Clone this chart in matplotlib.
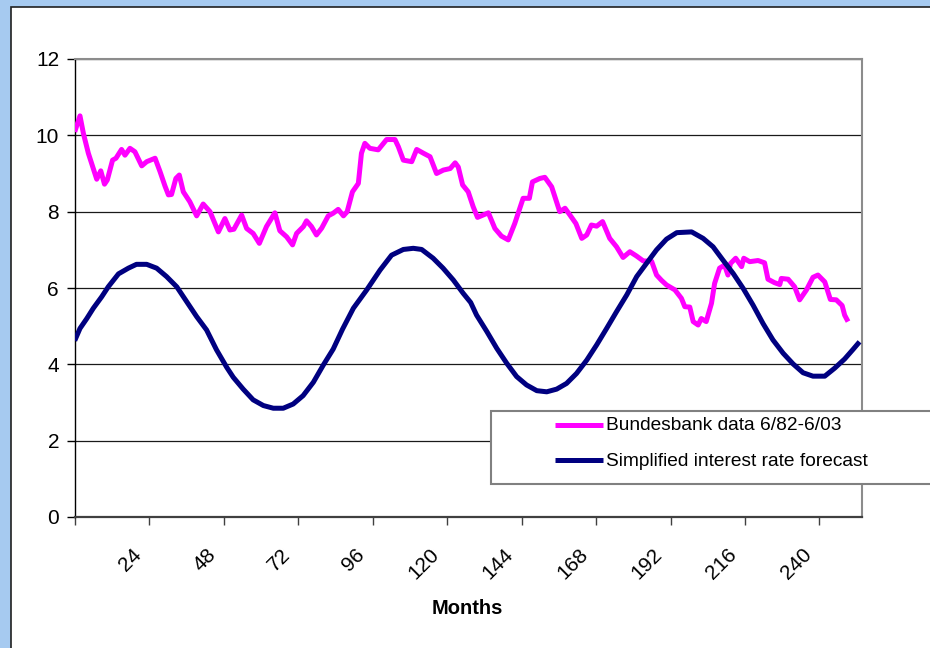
import matplotlib
matplotlib.use("Agg")
import matplotlib.pyplot as plt
from matplotlib.patches import Rectangle
from matplotlib.lines import Line2D
from matplotlib.transforms import ScaledTranslation
import numpy as np

plt.rcParams['font.family'] = ['Liberation Sans', 'DejaVu Sans']

# ---- data ----
pink_months = [0, 1.7, 2.8, 4.4, 5.8, 7.1, 8.4, 9.6, 10.5, 12.2, 13.3, 15.1, 16.2, 17.8, 19.4,
               21.6, 23.2, 25.9, 27.5, 29.1, 30.2, 31.2, 32.6, 33.7, 35.0, 37.1, 39.3, 41.4,
               43.6, 46.3, 48.4, 50.0, 51.3, 53.8, 55.4, 57.5, 59.5, 61.8, 64.5, 66.1, 68.3,
               70.2, 71.5, 73.7, 74.7, 76.3, 77.9, 79.6, 81.7, 83.3, 84.9, 86.6, 87.8, 89.5,
               91.4, 92.4, 93.5, 95.1, 97.8, 100.5, 103.2, 104.3, 105.9, 108.6, 110.2, 112.4,
               114.5, 116.6, 118.8, 121.0, 122.6, 123.6, 125.0, 126.8, 128.4, 129.8, 133.3,
               135.4, 137.5, 139.7, 141.8, 144.5, 146.5, 147.5, 149.9, 151.5, 153.7, 156.3,
               158.0, 159.6, 161.5, 163.4, 165.0, 166.5, 168.2, 170.1, 172.4, 174.6, 176.7,
               178.9, 181.0, 183.2, 185.9, 187.5, 189.1, 190.7, 193.4, 195.5, 196.6, 198.2,
               199.3, 200.9, 201.9, 203.5, 205.2, 206.2, 207.8, 209.4, 210.5, 211.3, 213.0,
               214.9, 215.6, 217.5, 220.2, 222.3, 223.4, 225.5, 227.2, 227.7, 229.9, 232.0,
               233.6, 235.8, 237.9, 239.5, 241.7, 243.5, 245.4, 247.3, 248.1, 249.2]
pink_values = [10.09, 10.51, 10.05, 9.53, 9.18, 8.85, 9.07, 8.72, 8.83, 9.35, 9.40, 9.63, 9.48,
               9.66, 9.57, 9.20, 9.31, 9.40, 9.05, 8.67, 8.44, 8.45, 8.87, 8.96, 8.52, 8.26,
               7.89, 8.20, 8.00, 7.47, 7.82, 7.52, 7.54, 7.91, 7.56, 7.43, 7.17, 7.61, 7.97,
               7.50, 7.34, 7.13, 7.43, 7.61, 7.76, 7.61, 7.39, 7.57, 7.89, 7.96, 8.06, 7.89,
               8.00, 8.52, 8.74, 9.53, 9.79, 9.66, 9.62, 9.89, 9.89, 9.70, 9.35, 9.31, 9.63,
               9.53, 9.44, 9.00, 9.09, 9.13, 9.28, 9.17, 8.70, 8.52, 8.13, 7.85, 7.97, 7.56,
               7.36, 7.26, 7.69, 8.35, 8.35, 8.78, 8.87, 8.90, 8.65, 8.00, 8.09, 7.91, 7.69,
               7.30, 7.39, 7.65, 7.62, 7.74, 7.30, 7.08, 6.80, 6.95, 6.84, 6.71, 6.70, 6.34,
               6.20, 6.08, 5.95, 5.73, 5.51, 5.50, 5.12, 5.03, 5.20, 5.12, 5.60, 6.12, 6.52,
               6.60, 6.34, 6.64, 6.78, 6.56, 6.78, 6.69, 6.72, 6.66, 6.23, 6.14, 6.09, 6.25,
               6.23, 6.03, 5.69, 5.95, 6.28, 6.34, 6.16, 5.70, 5.69, 5.54, 5.29, 5.12]

navy_months = [0, 1.7, 3.9, 6.0, 8.7, 10.8, 14.1, 17.3, 19.9, 23.2, 26.4, 29.6, 32.9, 36.1,
               39.3, 42.5, 45.7, 49.0, 51.1, 54.3, 57.5, 60.8, 64.0, 67.2, 70.4, 73.6, 76.9,
               80.1, 83.3, 86.3, 89.8, 94.1, 98.4, 102.1, 105.9, 109.1, 111.8, 115.5, 118.7,
               122.0, 125.2, 127.6, 129.5, 132.8, 136.0, 139.2, 142.4, 145.6, 148.9, 152.1,
               155.3, 158.5, 161.7, 165.0, 168.2, 171.4, 174.6, 177.9, 181.1, 184.3, 187.5,
               190.7, 194.0, 198.8, 202.5, 205.7, 208.9, 212.2, 215.4, 218.6, 221.8, 225.0,
               228.3, 231.5, 234.7, 237.9, 241.7, 244.9, 248.1, 250.8, 252.9]
navy_values = [4.62, 4.94, 5.20, 5.47, 5.77, 6.03, 6.37, 6.52, 6.62, 6.62, 6.52, 6.30, 6.03,
               5.64, 5.25, 4.90, 4.38, 3.92, 3.66, 3.35, 3.07, 2.92, 2.85, 2.85, 2.96, 3.18,
               3.53, 3.98, 4.40, 4.92, 5.47, 5.95, 6.47, 6.86, 7.01, 7.04, 7.01, 6.78, 6.52,
               6.21, 5.86, 5.62, 5.29, 4.86, 4.42, 4.03, 3.68, 3.46, 3.31, 3.28, 3.35, 3.50,
               3.76, 4.11, 4.51, 4.94, 5.38, 5.82, 6.30, 6.65, 7.00, 7.28, 7.45, 7.47, 7.30,
               7.08, 6.73, 6.38, 5.99, 5.55, 5.07, 4.64, 4.29, 4.01, 3.78, 3.69, 3.69, 3.90,
               4.14, 4.39, 4.59]

x_ticks = [0, 24, 48, 72, 96, 120, 144, 168, 192, 216, 240]
x_tick_labels = ['', '24', '48', '72', '96', '120', '144', '168', '192', '216', '240']
y_ticks = [0, 2, 4, 6, 8, 10, 12]
series_names = ['Bundesbank data 6/82-6/03', 'Simplified interest rate forecast']
x_title = 'Months'

PINK = '#FF00FF'
NAVY = '#000080'
W, H = 930, 648

fig = plt.figure(figsize=(9.3, 6.48), dpi=100)
fig.patch.set_facecolor('#A6CAF0')


def fx(px):
    return px / W


def fy(py):
    return 1 - py / H


# white chart area with dark border on left/top
fig.add_artist(Rectangle((fx(11), fy(700)), fx(960 - 11), fy(7) - fy(700),
                         transform=fig.transFigure, facecolor='white',
                         edgecolor='#202020', linewidth=1.2, zorder=-5))

ax = fig.add_axes([fx(74.7), fy(517), fx(861.7) - fx(74.7), fy(59) - fy(517)])
ax.set_facecolor('white')
ax.set_xlim(0, 253.6)
ax.set_ylim(0, 12)

ax.plot(pink_months, pink_values, color=PINK, lw=3.6, solid_joinstyle='round',
        solid_capstyle='butt', zorder=3)
ax.plot(navy_months, navy_values, color=NAVY, lw=3.6, solid_joinstyle='round',
        solid_capstyle='butt', zorder=4)

ax.set_yticks(y_ticks)
ax.set_xticks(x_ticks)
ax.set_xticklabels(x_tick_labels)
ax.yaxis.grid(True, color='#1a1a1a', lw=0.9)
ax.set_axisbelow(True)

ax.tick_params(axis='y', length=5.8, width=1, pad=5.5, labelsize=15, colors='black')
ax.tick_params(axis='x', length=5.8, width=1, pad=19, labelsize=15, colors='black')
ax.tick_params(axis='x', color='#404040')

offset = ScaledTranslation(-0.11, 0, fig.dpi_scale_trans)
for lab in ax.get_xticklabels():
    lab.set_rotation(45)
    lab.set_ha('right')
    lab.set_va('center')
    lab.set_rotation_mode('anchor')
    lab.set_transform(lab.get_transform() + offset)

for s in ['top', 'right']:
    ax.spines[s].set_color('#8c8c8c')
    ax.spines[s].set_linewidth(1.5)
ax.spines['left'].set_color('black')
ax.spines['left'].set_linewidth(1.0)
ax.spines['bottom'].set_color('#404040')
ax.spines['bottom'].set_linewidth(1.6)

fig.text(fx(467), fy(609), x_title, ha='center', va='center', fontsize=14.5,
         fontweight='bold')

# legend box (extends past the right edge like the reference)
fig.add_artist(Rectangle((fx(490.7), fy(484)), fx(980 - 490.7), fy(411) - fy(484),
                         transform=fig.transFigure, facecolor='white',
                         edgecolor='#808080', linewidth=1.5, zorder=5))
for name, col, py in [(series_names[0], PINK, 425), (series_names[1], NAVY, 460)]:
    fig.add_artist(Line2D([fx(555), fx(603)], [fy(py), fy(py)], color=col, lw=3.6,
                          solid_capstyle='butt', transform=fig.transFigure, zorder=6))
    fig.text(fx(606), fy(py + 1), name, ha='left', va='center', fontsize=13.8, zorder=6)

fig.savefig('out.png', dpi=100, facecolor=fig.get_facecolor())
